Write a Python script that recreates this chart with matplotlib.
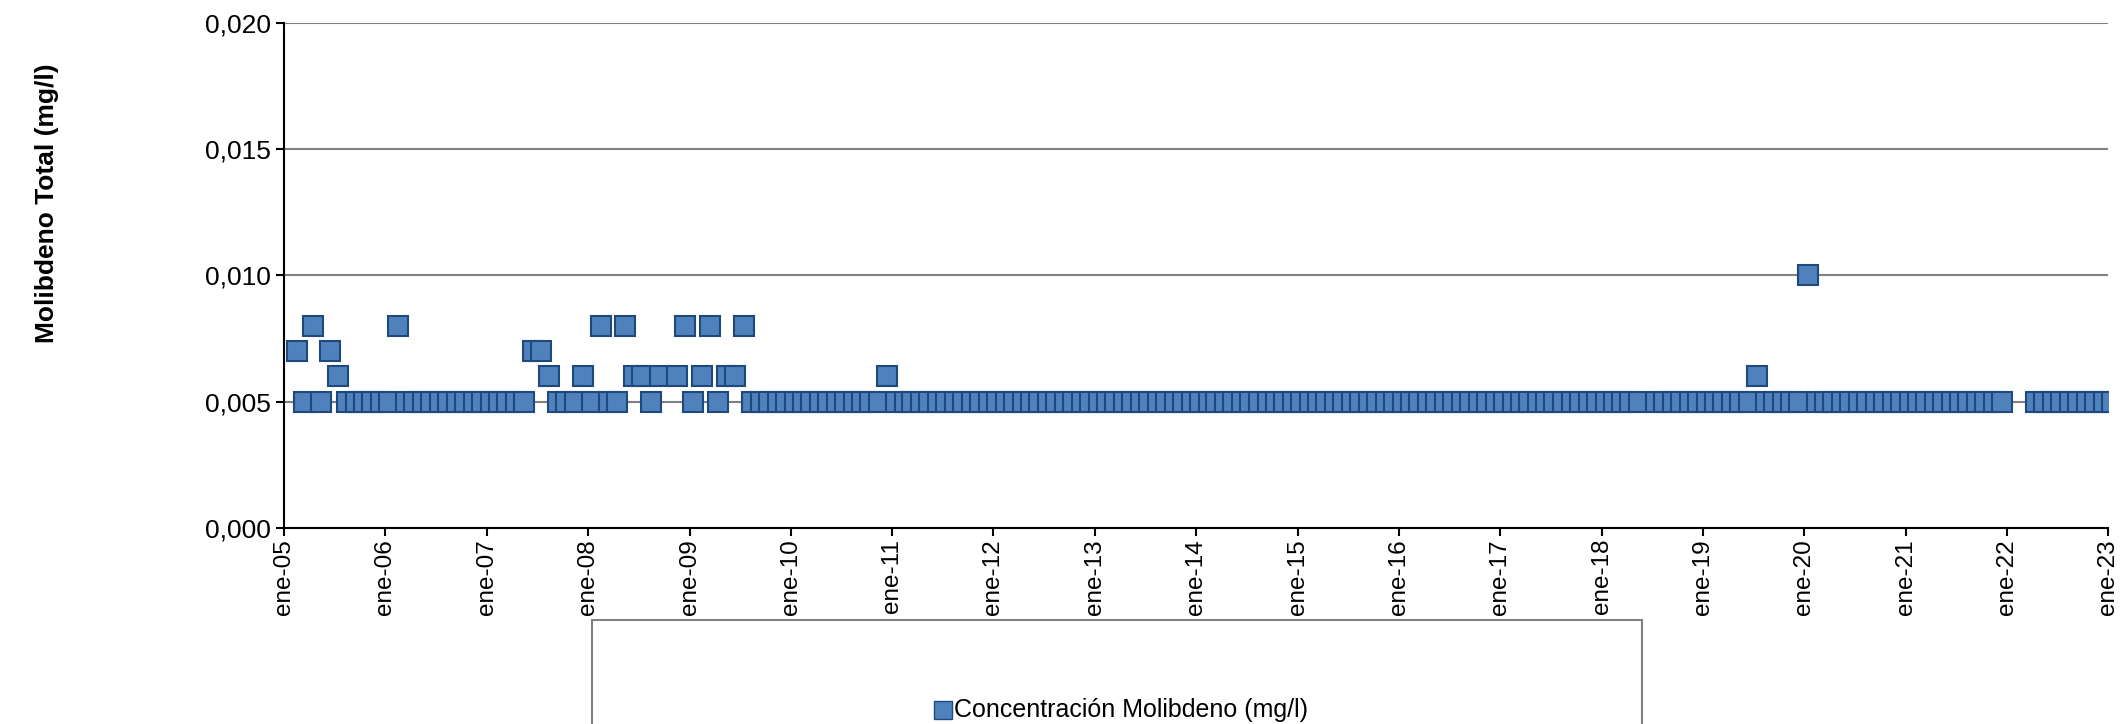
import numpy as np
import pandas as pd
import matplotlib
matplotlib.use("Agg")
import matplotlib.pyplot as plt
from matplotlib.patches import Rectangle

plt.rcParams['font.family'] = ['Liberation Sans', 'DejaVu Sans']

# months (per year) where the value is at the 0.005 baseline
base_months = {
    2005: [3, 5, 8, 9, 10, 11, 12],
    2006: [1, 3, 4, 5, 6, 7, 8, 9, 10, 11, 12],
    2007: [1, 2, 3, 4, 5, 9, 10, 11],
    2008: [1, 3, 4, 8],
    2009: [1, 4, 8, 9, 10, 11, 12],
    2010: [1, 2, 3, 4, 5, 6, 7, 8, 9, 10, 11],
}
for y in range(2011, 2022):
    base_months[y] = list(range(1, 13))
base_months[2018] = [1, 2, 3, 4, 5, 7, 8, 9, 10, 11, 12]
base_months[2019] = [1, 2, 3, 4, 5, 6, 8, 9, 10, 11, 12]
base_months[2020] = [2, 3, 4, 5, 6, 7, 8, 9, 10, 11, 12]
base_months[2022] = [4, 5, 6, 7, 8, 9, 10, 11, 12]
base_months[2023] = [1]

# points above the baseline
high_dates = ["2005-02", "2005-04", "2005-06", "2005-07", "2006-02", "2007-06",
              "2007-07", "2007-08", "2007-12", "2008-02", "2008-05", "2008-06",
              "2008-07", "2008-09", "2008-11", "2008-12", "2009-02", "2009-03",
              "2009-05", "2009-06", "2009-07", "2010-12", "2019-07", "2020-01"]
high_vals = [0.007, 0.008, 0.007, 0.006, 0.008, 0.007,
             0.007, 0.006, 0.006, 0.008, 0.008, 0.006,
             0.006, 0.006, 0.006, 0.008, 0.006, 0.008,
             0.006, 0.006, 0.008, 0.006, 0.006, 0.010]

dates = [pd.Timestamp(f"{y}-{m:02d}-15") for y, ms in base_months.items() for m in ms]
vals = [0.005] * len(dates)
dates += [pd.Timestamp(d + "-15") for d in high_dates]
vals += high_vals

fig = plt.figure(figsize=(21.21, 7.24), dpi=100)
ax = fig.add_axes([0.134, 0.271, 0.860, 0.697])
ax.plot(dates, vals, linestyle="none", marker="s", markersize=14,
        markerfacecolor="#4F81BD", markeredgecolor="#1F497D", markeredgewidth=1.5)

ax.set_ylim(0, 0.020)
ax.set_yticks(np.arange(0, 0.0201, 0.005))
ax.set_yticklabels([f"{v:.3f}".replace(".", ",") for v in np.arange(0, 0.0201, 0.005)],
                   fontsize=19)
ax.yaxis.grid(True, color="#808080", linewidth=1.5)
ax.set_axisbelow(True)
ax.set_xlim(pd.Timestamp("2005-01-01"), pd.Timestamp("2023-01-01"))
ticks = [pd.Timestamp(f"{y}-01-01") for y in range(2005, 2024)]
ax.set_xticks(ticks)
ax.set_xticklabels([f"ene-{y % 100:02d}" for y in range(2005, 2024)], rotation=90, fontsize=17.5)
for s in ["top", "right"]:
    ax.spines[s].set_visible(False)
ax.spines["left"].set_linewidth(1.5)
ax.spines["bottom"].set_linewidth(1.5)
ax.tick_params(length=6, width=1.5)
ax.tick_params(axis="x", pad=2)
fig.text(0.022, 0.72, "Molibdeno Total (mg/l)", rotation=90, fontsize=19,
         fontweight="bold", ha="center", va="center")

# legend box (cut off at the bottom)
fig.patches.append(Rectangle((0.279, -0.1), 0.495, 0.244, transform=fig.transFigure,
                             fill=False, edgecolor="#808080", linewidth=1.5))
fig.lines.append(plt.Line2D([0.4445], [0.0195], transform=fig.transFigure, marker="s",
                            markersize=13, markerfacecolor="#4F81BD",
                            markeredgecolor="#1F497D", linestyle="none"))
fig.text(0.4500, 0.0195, "Concentración Molibdeno (mg/l)", fontsize=18, va="center")

fig.savefig("out.png", dpi=100)
